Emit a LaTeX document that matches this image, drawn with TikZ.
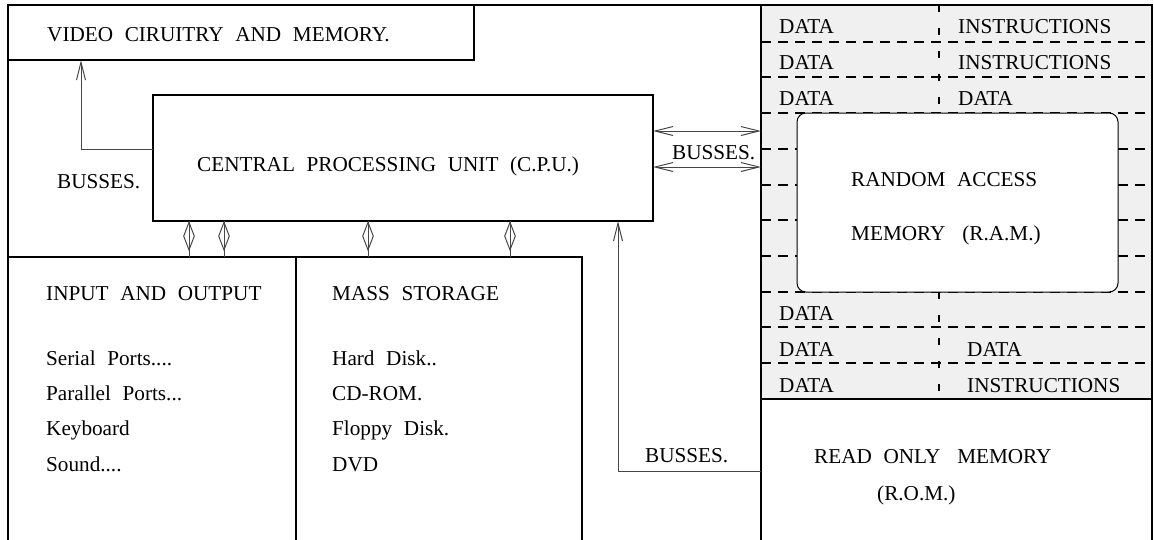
\documentclass[tikz,border=0pt]{standalone}
\usepackage{fontspec}
\setmainfont{Liberation Serif}
\usetikzlibrary{arrows.meta,shapes.geometric}
\newcommand{\wgap}{\hspace{0.55em}}
\newcommand{\wgapp}{\hspace{0.8em}}
\definecolor{memfill}{RGB}{240,240,240}
\definecolor{wirecol}{RGB}{70,70,70}

\begin{document}
\begin{tikzpicture}[x=1pt,y=-1pt,
  every node/.style={font=\fontsize{21.2}{25}\selectfont, inner sep=0pt},
  box/.style={draw, line width=1.8pt, anchor=north west, inner sep=0pt, outer sep=0pt},
  lbl/.style={anchor=base west},
  rowline/.style={line width=1.6pt, dash pattern=on 10pt off 7pt},
  colline/.style={line width=1.4pt, dash pattern=on 7pt off 16pt},
  wire/.style={draw=wirecol, line width=1pt},
  tip/.style={wire, -{Straight Barb[length=18pt,width=9pt]}},
  twotip/.style={wire, {Straight Barb[length=18pt,width=9pt]}-{Straight Barb[length=18pt,width=9pt]}},
  dmd/.style={draw=wirecol, line width=1pt, diamond, minimum width=11pt, minimum height=28pt, inner sep=0pt},
]
\useasboundingbox (0,0) rectangle (1154,539);

% memory column: shaded cells, read only memory below
\node[box, fill=memfill, minimum width=391pt, minimum height=394pt] (mem) at (761,5) {};
\foreach \yy in {42,77,113,149,185,220,256,292,327,363}
  \draw[rowline] (761,\yy) -- (1152,\yy);
\draw[colline] (939,5) -- (939,113);
\draw[colline] (939,292) -- (939,399);
\node[draw, line width=1pt, fill=white, rounded corners=9pt, anchor=north west,
      minimum width=321pt, minimum height=179pt, outer sep=0pt] (ram) at (797,113) {};
\node[box, minimum width=391pt, minimum height=146pt] (rom) at (761,399) {};

% outer frame
\draw[line width=1.8pt] (8,545) -- (8,5) -- (1152,5) -- (1152,545);

% main blocks
\node[box, minimum width=466pt, minimum height=55pt] (video) at (8,5) {};
\node[box, minimum width=500pt, minimum height=126pt] (cpu) at (153,95) {};
\node[box, minimum width=288pt, minimum height=288pt] (io) at (8,257) {};
\node[box, minimum width=286pt, minimum height=288pt] (mass) at (296,257) {};

% labels
\node[lbl] (tvideo) at (47,41) {VIDEO\wgap CIRUITRY\wgap AND\wgap MEMORY.};
\node[lbl] (tcpu) at (197,171) {CENTRAL\wgap PROCESSING\wgap UNIT\wgap (C.P.U.)};
\node[lbl] (tbusl) at (57,188) {BUSSES.};
\node[lbl] (tbusr) at (672,159) {BUSSES.};
\node[lbl] (tbusb) at (645,462) {BUSSES.};

\node[lbl] (tio) at (46,300) {INPUT\wgap AND\wgap OUTPUT};
\node[lbl] (tio1) at (46,365) {Serial\wgap Ports....};
\node[lbl] (tio2) at (46,400) {Parallel\wgap Ports...};
\node[lbl] (tio3) at (46,435) {Keyboard};
\node[lbl] (tio4) at (46,471) {Sound....};

\node[lbl] (tms) at (332,300) {MASS\wgap STORAGE};
\node[lbl] (tms1) at (332,365) {Hard\wgap Disk..};
\node[lbl] (tms2) at (332,400) {CD-ROM.};
\node[lbl] (tms3) at (332,435) {Floppy\wgap Disk.};
\node[lbl] (tms4) at (332,471) {DVD};

\node[lbl] (ra) at (779,33) {DATA};
\node[lbl] (rb) at (779,69) {DATA};
\node[lbl] (rc) at (779,105) {DATA};
\node[lbl] (rd) at (779,320) {DATA};
\node[lbl] (re) at (779,356) {DATA};
\node[lbl] (rf) at (779,392) {DATA};
\node[lbl] (sa) at (958,33) {INSTRUCTIONS};
\node[lbl] (sb) at (958,69) {INSTRUCTIONS};
\node[lbl] (sc) at (958,105) {DATA};
\node[lbl] (se) at (967,356) {DATA};
\node[lbl] (sf) at (967,392) {INSTRUCTIONS};

\node[lbl] (tram1) at (851,186) {RANDOM\wgap ACCESS};
\node[lbl] (tram2) at (851,240) {MEMORY\wgapp (R.A.M.)};
\node[lbl] (trom1) at (814,463) {READ\wgap ONLY\wgapp MEMORY};
\node[lbl] (trom2) at (877,500) {(R.O.M.)};

% busses
\coordinate (vidtap) at (81,149);
\draw[tip] (cpu.west |- vidtap) -| (video.south -| vidtap);

\coordinate (b1) at (700,131);
\coordinate (b2) at (700,167);
\draw[twotip] (cpu.east |- b1) -- (mem.west |- b1);
\draw[twotip] (cpu.east |- b2) -- (mem.west |- b2);

\coordinate (romtap) at (618,471);
\draw[tip] (rom.west |- romtap) -| (cpu.south -| romtap);

\coordinate (d1) at (189,0);
\coordinate (d2) at (224,0);
\coordinate (d3) at (368,0);
\coordinate (d4) at (510,0);
\draw[wire] (cpu.south -| d1) -- node[dmd, pos=0.42] (dm1) {} (io.north -| d1);
\draw[wire] (cpu.south -| d2) -- node[dmd, pos=0.42] (dm2) {} (io.north -| d2);
\draw[wire] (cpu.south -| d3) -- node[dmd, pos=0.42] (dm3) {} (mass.north -| d3);
\draw[wire] (cpu.south -| d4) -- node[dmd, pos=0.42] (dm4) {} (mass.north -| d4);
\end{tikzpicture}
\end{document}
